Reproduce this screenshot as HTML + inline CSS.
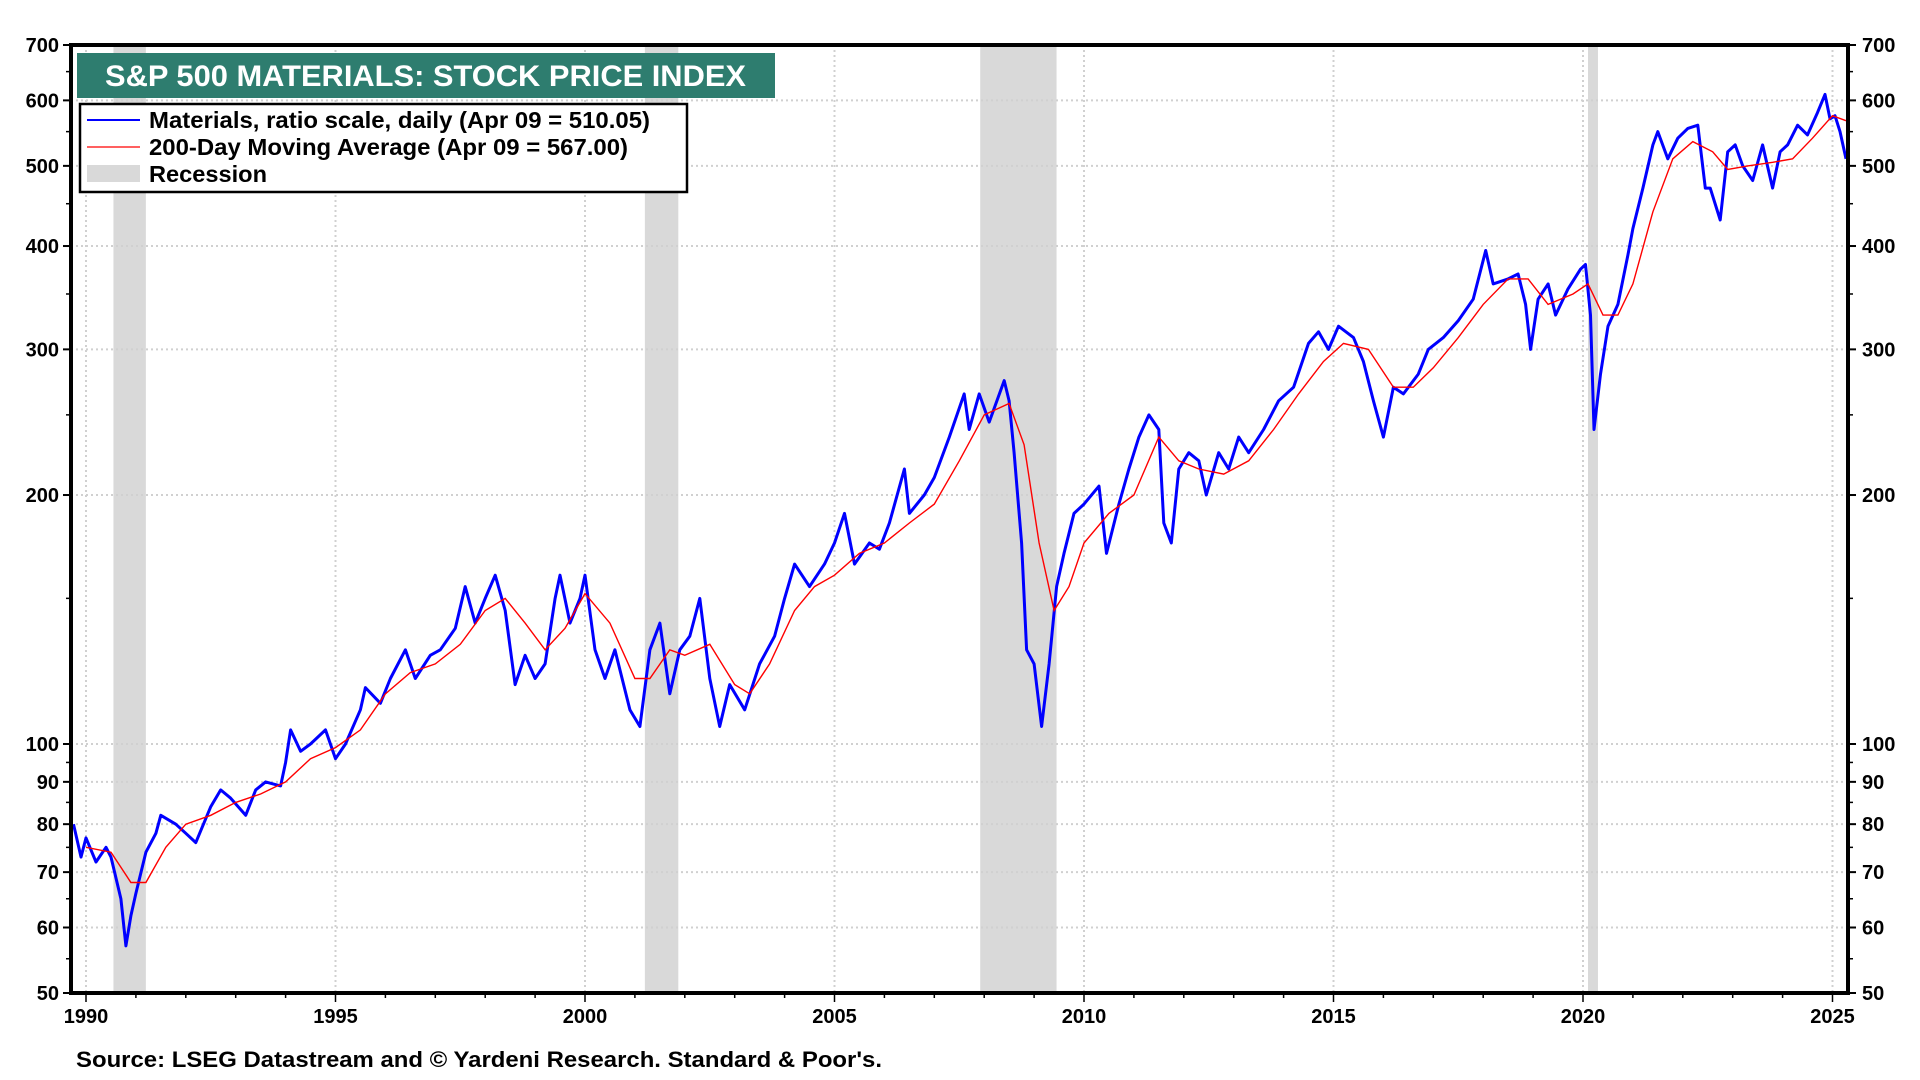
<!DOCTYPE html>
<html><head><meta charset="utf-8">
<style>
html,body{margin:0;padding:0;background:#fff;}
svg{display:block;font-family:"Liberation Sans",Arial,sans-serif;font-weight:bold;}
</style></head>
<body>
<svg id="chart" width="1920" height="1080" viewBox="0 0 1920 1080">
<g id="rec"></g>
<g id="grid"></g>
<g id="series"></g>
<g id="axes"></g>
<g>
<rect x="77" y="53" width="698" height="45" fill="#2e7d6f"/>
<text x="105" y="86" fill="#fff" font-size="30" textLength="641" lengthAdjust="spacingAndGlyphs">S&amp;P 500 MATERIALS: STOCK PRICE INDEX</text>
</g>
<g>
<rect x="80" y="104" width="607" height="88" fill="#fff" stroke="#000" stroke-width="2.5"/>
<line x1="87" y1="120" x2="140" y2="120" stroke="#0000ff" stroke-width="2"/>
<text x="149" y="128" font-size="23" textLength="501" lengthAdjust="spacingAndGlyphs">Materials, ratio scale, daily (Apr 09 = 510.05)</text>
<line x1="87" y1="147" x2="140" y2="147" stroke="#ff0000" stroke-width="1.2"/>
<text x="149" y="155" font-size="23" textLength="479" lengthAdjust="spacingAndGlyphs">200-Day Moving Average (Apr 09 = 567.00)</text>
<rect x="87" y="165" width="53" height="17" fill="#d9d9d9"/>
<text x="149" y="182" font-size="23" textLength="118" lengthAdjust="spacingAndGlyphs">Recession</text>
</g>
<text x="76" y="1067" font-size="22" textLength="806" lengthAdjust="spacingAndGlyphs">Source: LSEG Datastream and © Yardeni Research. Standard &amp; Poor's.</text>
</svg>
<script>
const priceYears=[1989.75,1989.9,1990.0,1990.2,1990.4,1990.5,1990.7,1990.8,1990.9,1991.0,1991.2,1991.4,1991.5,1991.8,1992.0,1992.2,1992.5,1992.7,1992.9,1993.2,1993.4,1993.6,1993.9,1994.0,1994.1,1994.3,1994.5,1994.8,1995.0,1995.2,1995.5,1995.6,1995.9,1996.1,1996.4,1996.6,1996.9,1997.1,1997.4,1997.6,1997.8,1998.0,1998.2,1998.4,1998.6,1998.8,1999.0,1999.2,1999.4,1999.5,1999.7,1999.9,2000.0,2000.2,2000.4,2000.6,2000.9,2001.1,2001.3,2001.5,2001.7,2001.9,2002.1,2002.3,2002.5,2002.7,2002.9,2003.2,2003.5,2003.8,2004.0,2004.2,2004.5,2004.8,2005.0,2005.2,2005.4,2005.7,2005.9,2006.1,2006.4,2006.5,2006.8,2007.0,2007.3,2007.6,2007.7,2007.9,2008.1,2008.4,2008.5,2008.6,2008.75,2008.85,2009.0,2009.15,2009.3,2009.45,2009.6,2009.8,2010.0,2010.3,2010.45,2010.7,2010.9,2011.1,2011.3,2011.5,2011.6,2011.75,2011.9,2012.1,2012.3,2012.45,2012.7,2012.9,2013.1,2013.3,2013.6,2013.9,2014.2,2014.5,2014.7,2014.9,2015.1,2015.4,2015.6,2015.8,2016.0,2016.2,2016.4,2016.7,2016.9,2017.2,2017.5,2017.8,2018.05,2018.2,2018.5,2018.7,2018.85,2018.95,2019.1,2019.3,2019.45,2019.7,2019.95,2020.05,2020.15,2020.22,2020.35,2020.5,2020.7,2020.9,2021.0,2021.2,2021.4,2021.5,2021.7,2021.9,2022.1,2022.3,2022.45,2022.55,2022.75,2022.9,2023.05,2023.2,2023.4,2023.6,2023.8,2023.95,2024.1,2024.3,2024.5,2024.7,2024.85,2024.95,2025.05,2025.15,2025.27];
const priceValues=[80,73,77,72,75,73,65,57,62,66,74,78,82,80,78,76,84,88,86,82,88,90,89,95,104,98,100,104,96,100,110,117,112,120,130,120,128,130,138,155,140,150,160,145,118,128,120,125,150,160,140,150,160,130,120,130,110,105,130,140,115,130,135,150,120,105,118,110,125,135,150,165,155,165,175,190,165,175,172,185,215,190,200,210,235,265,240,265,245,275,260,225,175,130,125,105,125,155,170,190,195,205,170,195,215,235,250,240,185,175,215,225,220,200,225,215,235,225,240,260,270,305,315,300,320,310,290,260,235,270,265,280,300,310,325,345,395,360,365,370,340,300,345,360,330,355,375,380,330,240,280,320,340,390,420,470,530,550,510,540,555,560,470,470,430,520,530,500,480,530,470,520,530,560,545,580,610,570,575,550,510];
const maYears=[1990.0,1990.5,1990.9,1991.2,1991.6,1992.0,1992.5,1993.0,1993.5,1994.0,1994.5,1995.0,1995.5,1996.0,1996.5,1997.0,1997.5,1998.0,1998.4,1998.8,1999.2,1999.6,2000.0,2000.5,2001.0,2001.3,2001.7,2002.0,2002.5,2003.0,2003.3,2003.7,2004.2,2004.6,2005.0,2005.5,2006.0,2006.5,2007.0,2007.5,2008.0,2008.5,2008.8,2009.1,2009.4,2009.7,2010.0,2010.5,2011.0,2011.5,2011.9,2012.3,2012.8,2013.3,2013.8,2014.3,2014.8,2015.2,2015.7,2016.2,2016.6,2017.0,2017.5,2018.0,2018.5,2018.9,2019.3,2019.8,2020.1,2020.4,2020.7,2021.0,2021.4,2021.8,2022.2,2022.6,2022.9,2023.3,2023.8,2024.2,2024.6,2025.0,2025.27];
const maValues=[75,74,68,68,75,80,82,85,87,90,96,99,104,115,122,125,132,145,150,140,130,138,152,140,120,120,130,128,132,118,115,125,145,155,160,170,175,185,195,220,250,258,230,175,145,155,175,190,200,235,220,215,212,220,240,265,290,305,300,270,270,285,310,340,365,365,340,350,360,330,330,360,440,510,535,520,495,500,505,510,540,575,567];
const recessions=[[1990.55,1991.2],[2001.2,2001.87],[2007.92,2009.45],[2020.1,2020.3]];
const yTicks=[50,60,70,80,90,100,200,300,400,500,600,700];
const xTicks=[1990,1995,2000,2005,2010,2015,2020,2025];

const NS="http://www.w3.org/2000/svg";
const L=71,R=1848,T=45,B=993;
const X0=1990,XPX0=86,PXY=49.9;
const x=v=>XPX0+(v-X0)*PXY;
const y=v=>B-(Math.log(v/50)/Math.log(14))*(B-T);
function mk(tag,parent,attrs){const e=document.createElementNS(NS,tag);for(const k in attrs)e.setAttribute(k,attrs[k]);parent.appendChild(e);return e;}
const rec=document.getElementById('rec'),grid=document.getElementById('grid'),series=document.getElementById('series'),axes=document.getElementById('axes');

recessions.forEach(r=>{
  const el=mk('rect',rec,{x:x(r[0]),y:T,width:x(r[1])-x(r[0]),height:B-T,fill:'#d9d9d9'});
  
  
});
yTicks.forEach(v=>{
  const g=mk('line',grid,{x1:L,x2:R,y1:y(v),y2:y(v),stroke:'#d0d0d0','stroke-width':2,'stroke-dasharray':'2,3'});
  
  
  const t1=mk('text',axes,{x:L-12,y:y(v)+7,'text-anchor':'end','font-size':20});
  t1.textContent=v;
  
  
  const t2=mk('text',axes,{x:R+14,y:y(v)+7,'font-size':20});
  t2.textContent=v;
  
  
  mk('line',axes,{x1:L-8,x2:L,y1:y(v),y2:y(v),stroke:'#000','stroke-width':2});
  mk('line',axes,{x1:R,x2:R+8,y1:y(v),y2:y(v),stroke:'#000','stroke-width':2});
});
[55,65,75,85,95,150,250,350,450,550,650].forEach(v=>{
  mk('line',axes,{x1:L-5,x2:L,y1:y(v),y2:y(v),stroke:'#000','stroke-width':1.5});
  mk('line',axes,{x1:R,x2:R+5,y1:y(v),y2:y(v),stroke:'#000','stroke-width':1.5});
});
xTicks.forEach(v=>{
  const g=mk('line',grid,{x1:x(v),x2:x(v),y1:T,y2:B,stroke:'#d0d0d0','stroke-width':2,'stroke-dasharray':'2,3'});
  
  
  const t=mk('text',axes,{x:x(v),y:B+30,'text-anchor':'middle','font-size':20});
  t.textContent=v;
  
  
});
for(let yr=1990;yr<=2025;yr++){mk('line',axes,{x1:x(yr),x2:x(yr),y1:B,y2:B+(yr%5?5:9),stroke:'#000','stroke-width':1.5});}

const pts=(xs,vs)=>xs.map((v,i)=>x(v).toFixed(1)+','+y(vs[i]).toFixed(1)).join(' ');
const pl=mk('polyline',series,{points:pts(priceYears,priceValues),fill:'none',stroke:'#0000ff','stroke-width':3,'stroke-linejoin':'round'});


const ma=mk('polyline',series,{points:pts(maYears,maValues),fill:'none',stroke:'#ff0000','stroke-width':1.4});



const frame=mk('path',axes,{d:`M${L},${T} L${R},${T} L${R},${B} L${L},${B} Z`,fill:'none',stroke:'#000','stroke-width':4});


</script>
</body></html>
